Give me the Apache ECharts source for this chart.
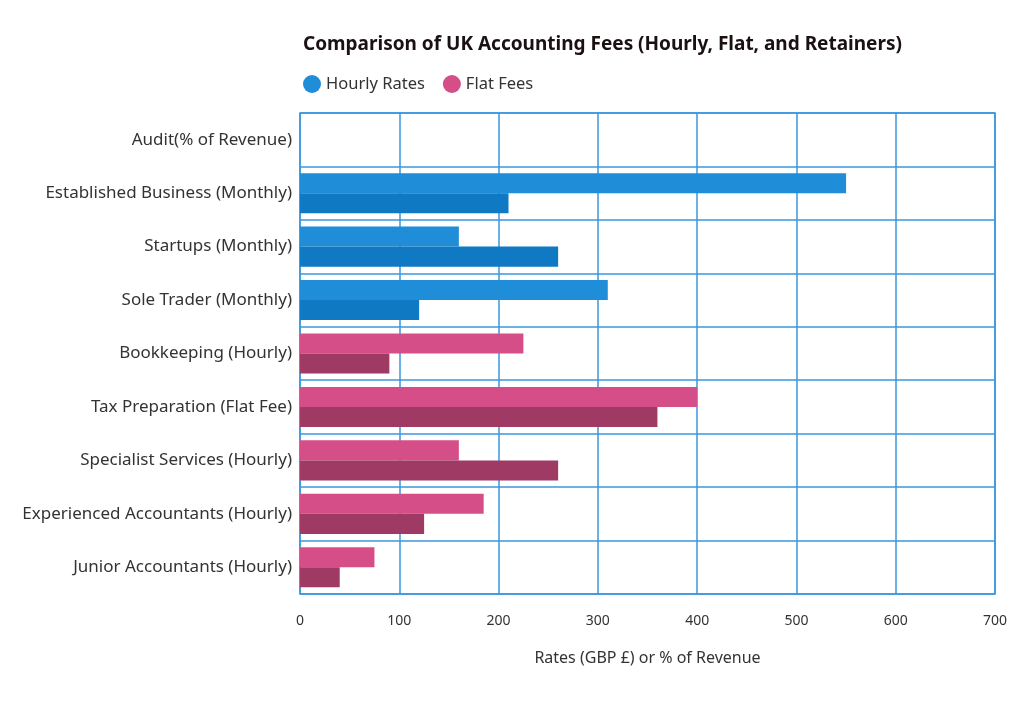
<!DOCTYPE html>
<html>
<head>
<meta charset="utf-8">
<style>
  html, body { margin: 0; padding: 0; background: #ffffff; }
  #chart { width: 1024px; height: 712px; }
</style>
<script src="https://cdn.jsdelivr.net/npm/echarts@6/dist/echarts.min.js"></script>
</head>
<body>
<div id="chart"></div>
<script>
// Categories, listed bottom to top (as on the category axis)
const categories = [
  'Junior Accountants (Hourly)',
  'Experienced Accountants (Hourly)',
  'Specialist Services (Hourly)',
  'Tax Preparation (Flat Fee)',
  'Bookkeeping (Hourly)',
  'Sole Trader (Monthly)',
  'Startups (Monthly)',
  'Established Business (Monthly)',
  'Audit(% of Revenue)'
];
// Which legend group each category belongs to
const groups = ['Flat Fees', 'Flat Fees', 'Flat Fees', 'Flat Fees', 'Flat Fees',
                'Hourly Rates', 'Hourly Rates', 'Hourly Rates', 'Hourly Rates'];
// Upper bar of each category
const upperValues = [75, 185, 160, 400, 225, 310, 160, 550, null];
// Lower bar of each category
const lowerValues = [40, 125, 260, 360, 90, 120, 260, 210, null];
// X axis ticks
const xTicks = [0, 100, 200, 300, 400, 500, 600, 700];

const legendNames = ['Hourly Rates', 'Flat Fees'];
const upperColors = { 'Hourly Rates': '#1f8dd7', 'Flat Fees': '#d64e88' };
const lowerColors = { 'Hourly Rates': '#0f7ac3', 'Flat Fees': '#9e3a63' };

function pick(values, name) {
  return values.map((v, i) => (groups[i] === name ? v : null));
}

const series = [];
// upper slot first (drawn on top), then lower; groups share a stack so they fill the same slot
['upper', 'lower'].forEach(slot => {
  legendNames.forEach(name => {
    series.push({
      name: name,
      type: 'bar',
      stack: slot,
      barGap: '0%',
      barCategoryGap: '25%',
      itemStyle: { color: slot === 'upper' ? upperColors[name] : lowerColors[name] },
      emphasis: { disabled: true },
      data: pick(slot === 'upper' ? upperValues : lowerValues, name)
    });
  });
});

const chart = echarts.init(document.getElementById('chart'), null, { renderer: 'canvas' });
const gridColor = '#3a97dd';
chart.setOption({
  animation: false,
  backgroundColor: '#ffffff',
  textStyle: { fontFamily: 'Noto Sans' },
  title: {
    text: 'Comparison of UK Accounting Fees (Hourly, Flat, and Retainers)',
    left: 298,
    top: 30,
    textStyle: { fontFamily: 'Noto Sans', fontSize: 19, fontWeight: 'bold', color: '#1b1012' }
  },
  legend: {
    data: legendNames,
    left: 298,
    top: 70,
    icon: 'circle',
    itemWidth: 18,
    itemHeight: 18,
    itemGap: 18,
    textStyle: { fontFamily: 'Noto Sans', fontSize: 16.5, color: '#333333' }
  },
  grid: {
    left: 300,
    right: 29,
    top: 113,
    bottom: 118,
    show: true,
    borderColor: gridColor,
    borderWidth: 1.5,
    containLabel: false
  },
  xAxis: {
    type: 'value',
    min: 0,
    max: 700,
    interval: 100,
    name: 'Rates (GBP £) or % of Revenue',
    nameLocation: 'middle',
    nameGap: 56,
    nameTextStyle: { fontFamily: 'Noto Sans', fontSize: 16, color: '#333333' },
    axisLine: { show: false },
    axisTick: { show: false },
    axisLabel: {
      margin: 20,
      fontSize: 14,
      color: '#333333',
      formatter: v => (xTicks.indexOf(v) >= 0 ? String(v) : '')
    },
    splitLine: { show: true, lineStyle: { color: gridColor, width: 1.5 } }
  },
  yAxis: {
    type: 'category',
    data: categories,
    axisLine: { show: false },
    axisTick: { show: false },
    axisLabel: { margin: 8, fontSize: 17, color: '#333333' },
    splitLine: { show: true, lineStyle: { color: gridColor, width: 1.5 } }
  },
  series: series
});
</script>
</body>
</html>
